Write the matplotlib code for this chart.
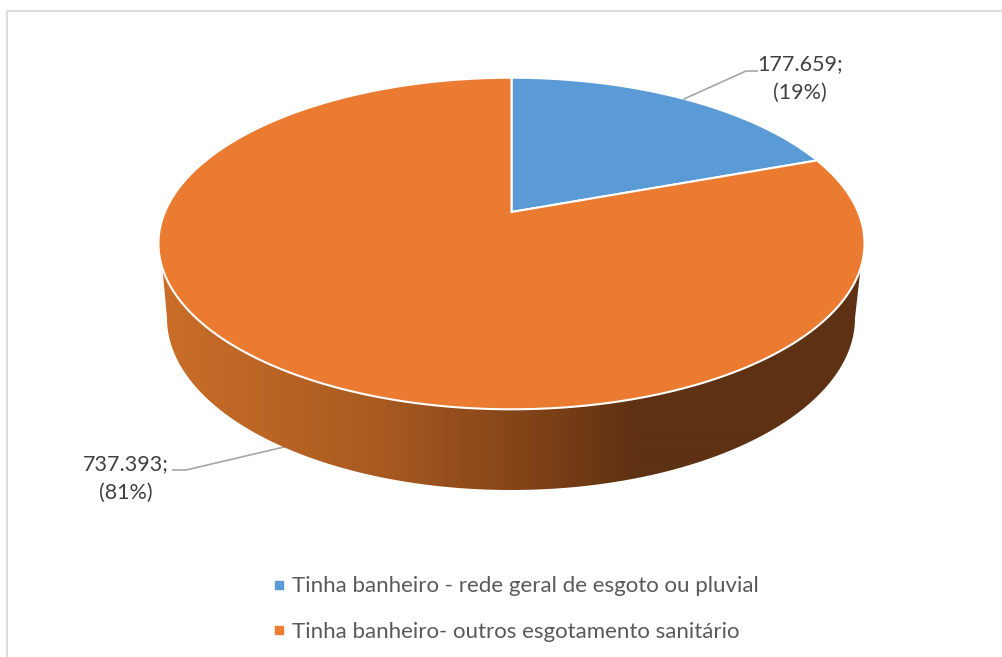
import numpy as np
import matplotlib
matplotlib.use("Agg")
import matplotlib.pyplot as plt
from matplotlib.colors import LinearSegmentedColormap
from matplotlib.lines import Line2D
from matplotlib.patches import PathPatch, Polygon
from matplotlib.path import Path

categories = ["Tinha banheiro - rede geral de esgoto ou pluvial",
              "Tinha banheiro- outros esgotamento sanitário"]
values = [177659, 737393]
percent_labels = ["19%", "81%"]
colors = ["#5B9BD5", "#EA7B31"]
legend_colors = ["#5B9BD5", "#ED7D31"]

plt.rcParams["font.family"] = ["Lato", "DejaVu Sans"]
fig = plt.figure(figsize=(10.03, 6.57), dpi=100)
ax = fig.add_axes([0, 0, 1, 1])
ax.set_xlim(0, 1003)
ax.set_ylim(657, 0)
ax.axis("off")

# chart frame
ax.plot([7, 7, 1003], [657, 10.5, 10.5], color="#DADADA", lw=1.3, zorder=1)

# perspective projection of the unit circle onto the picture
CX, CY, A, B, K = 511.5, 212, 346.6, 159.8, 0.19


def project(theta):
    x, y = np.sin(theta), np.cos(theta)
    return CX + A * x / (1 + K * y), CY - B * y / (1 + K * y)


# side wall
th = np.linspace(0, 2 * np.pi, 1441)
ox, oy = project(th)
mask = oy >= 267.5
top_x, top_y = ox[mask], oy[mask]
t = np.linspace(np.pi / 2, 3 * np.pi / 2, 400)
low_x = 511 + 344 * np.sin(t)
low_y = 318 - 172 * np.cos(t)
wall = np.column_stack([np.r_[top_x, low_x[::-1]], np.r_[top_y, low_y[::-1]]])
wall_patch = PathPatch(Path(np.vstack([wall, wall[0]]), closed=True),
                       facecolor="none", edgecolor="none", transform=ax.transData)
ax.add_patch(wall_patch)
span = (160, 640)
stops = [(160, "#CB6E29"), (380, "#A85A21"), (520, "#844418"), (640, "#5E3113")]
cmap = LinearSegmentedColormap.from_list(
    "wall", [((p - span[0]) / (span[1] - span[0]), c) for p, c in stops])
grad = np.clip((np.arange(155, 870) - span[0]) / (span[1] - span[0]), 0, 1)[None, :]
im = ax.imshow(grad, extent=(155, 870, 500, 250), cmap=cmap, vmin=0, vmax=1,
               aspect="auto", zorder=2, interpolation="bilinear")
im.set_clip_path(wall_patch)
ax.set_xlim(0, 1003)
ax.set_ylim(657, 0)

# top face
total = sum(values)
start = 0.0
for value, color in zip(values, colors):
    sweep = 2 * np.pi * value / total
    angles = np.linspace(start, start + sweep, 600)
    xs, ys = project(angles)
    pts = np.column_stack([np.r_[CX, xs], np.r_[CY, ys]])
    ax.add_patch(Polygon(pts, closed=True, facecolor=color, edgecolor="white",
                         lw=1.5, joinstyle="miter", zorder=3))
    start += sweep

# data labels and leaders
def label(i):
    return f"{values[i]:,}".replace(",", ".") + ";\n(" + percent_labels[i] + ")"


LABEL = dict(color="#404040", fontsize=15.5, ha="center", va="center", linespacing=1.58, zorder=5)
ax.text(800, 78.5, label(0), **LABEL)
ax.text(126, 478.5, label(1), **LABEL)
ax.plot([757, 746, 684], [71, 71, 99], color="#A6A6A6", lw=1.2, zorder=4)
ax.plot([173, 186, 284], [470, 470, 447], color="#A6A6A6", lw=1.2, zorder=1.5)

# legend
handles = [Line2D([], [], linestyle="none", marker="s", markersize=5.8,
                  markerfacecolor=c, markeredgecolor=c) for c in legend_colors]
ax.legend(handles, categories, loc="upper left", bbox_to_anchor=(270, 576.5),
          bbox_transform=ax.transData, frameon=False, fontsize=16, labelcolor="#595959",
          labelspacing=1.14, handlelength=0.8, handletextpad=0.2, borderpad=0, borderaxespad=0)

fig.savefig("out.png", dpi=100)
